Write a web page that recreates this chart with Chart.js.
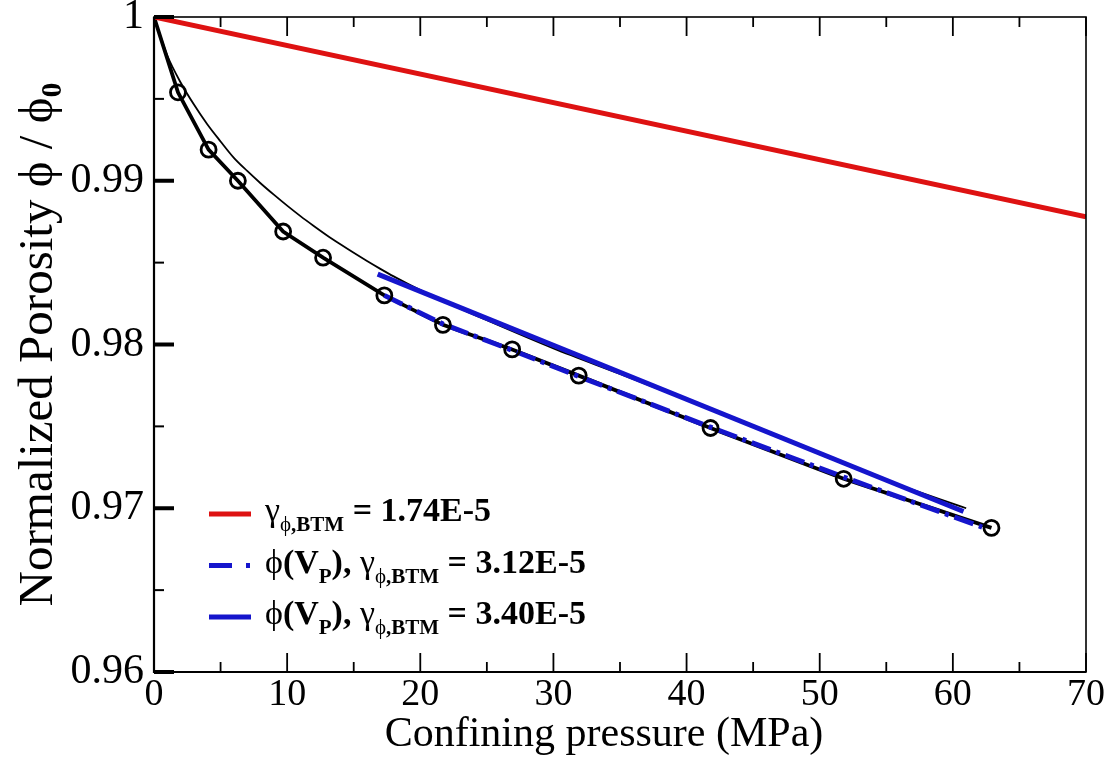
<!DOCTYPE html>
<html>
<head>
<meta charset="utf-8">
<script src="https://cdn.jsdelivr.net/npm/chart.js@4.4.1/dist/chart.umd.min.js"></script>
<style>
  html, body { margin: 0; padding: 0; background: #fff; }
</style>
</head>
<body>
<canvas id="chart" width="1114" height="763"></canvas>
<script>
// measured porosity (open circles)
const measuredP   = [1.8, 4.1, 6.3, 9.7, 12.7, 17.3, 21.7, 26.9, 31.9, 41.8, 51.8, 62.9];
const measuredPhi = [0.9954, 0.9919, 0.9900, 0.9869, 0.9853, 0.9830, 0.9812, 0.9797, 0.9781, 0.9749, 0.9718, 0.9688];

// thin fitted curve
const fitP   = [0, 1, 2, 3, 4, 5, 6, 7, 8, 9, 10, 11, 12, 13, 14, 15, 16, 17, 18, 20, 22, 25, 30, 35, 40, 45, 50, 55, 61];
const fitPhi = [1.0, 0.99765, 0.9960, 0.99465, 0.99345, 0.9924, 0.9914, 0.9906, 0.98985, 0.98915, 0.98848,
                0.98784, 0.98724, 0.98666, 0.98612, 0.9856, 0.9851, 0.98462, 0.98416, 0.98332, 0.98256,
                0.98148, 0.97976, 0.9782, 0.97662, 0.9750, 0.9733, 0.9717, 0.9700];

// phi(Vp) curve, gamma = 3.12E-5 (dashed)
const vp312P   = [17.3, 21.7, 26.9, 31.9, 41.8, 51.8, 62.2];
const vp312Phi = [0.9830, 0.98125, 0.97965, 0.97805, 0.97495, 0.9719, 0.96885];

// straight BTM lines
const btm174P = [0, 70];
const btm174Phi = [1.0, 0.9878];
const btm340P = [16.8, 60.8];
const btm340Phi = [0.9843, 0.9698];

// axis ticks
const xMajor = [0, 10, 20, 30, 40, 50, 60, 70];
const xMinor = [5, 15, 25, 35, 45, 55, 65];
const yMajor = [0.96, 0.97, 0.98, 0.99, 1.0];
const yMinor = [0.965, 0.975, 0.985, 0.995];

const RED = '#de1212';
const BLUE = '#1515cc';
const SERIF = '"Liberation Serif", "Times New Roman", serif';

const pts = (xs, ys) => xs.map((x, i) => ({ x: x, y: ys[i] }));

// legend rows: [text, kind]  g = greek, m = bold, s = bold subscript, gs = greek subscript
const legendRows = [
  { ds: 3, dash: [], segs: [['γ', 'g'], ['ϕ', 'gs'], [',BTM', 's'], [' = 1.74E-5', 'm']] },
  { ds: 2, dash: [23, 14, 4, 100], segs: [['ϕ', 'g'], ['(V', 'm'], ['P', 's'], ['), ', 'm'], ['γ', 'g'], ['ϕ', 'gs'], [',BTM', 's'], [' = 3.12E-5', 'm']] },
  { ds: 1, dash: [], segs: [['ϕ', 'g'], ['(V', 'm'], ['P', 's'], ['), ', 'm'], ['γ', 'g'], ['ϕ', 'gs'], [',BTM', 's'], [' = 3.40E-5', 'm']] }
];

const fonts = {
  g: '34px ' + SERIF,
  m: 'bold 34px ' + SERIF,
  s: 'bold 21px ' + SERIF,
  gs: '21px ' + SERIF
};

function drawRich(ctx, x, y, segs, fontMap, subShift) {
  for (const [text, kind] of segs) {
    ctx.font = fontMap[kind];
    const dy = kind.endsWith('s') ? subShift : 0;
    ctx.fillText(text, x, y + dy);
    x += ctx.measureText(text).width;
  }
  return x;
}

const decorPlugin = {
  id: 'decor',
  afterDatasetsDraw(chart) {
    const ctx = chart.ctx;
    const a = chart.chartArea;
    const xs = chart.scales.x, ys = chart.scales.y;
    ctx.save();
    ctx.strokeStyle = '#000';
    ctx.lineCap = 'butt';

    // frame
    ctx.lineWidth = 1.6;
    ctx.strokeRect(a.left, a.top, a.right - a.left, a.bottom - a.top);
    ctx.lineWidth = 2.2;
    ctx.beginPath();
    ctx.moveTo(a.left, a.top); ctx.lineTo(a.left, a.bottom); ctx.lineTo(a.right, a.bottom);
    ctx.stroke();

    // x ticks bottom and top
    const xTick = (v, len) => {
      const px = xs.getPixelForValue(v);
      ctx.beginPath();
      ctx.moveTo(px, a.bottom); ctx.lineTo(px, a.bottom - len);
      ctx.moveTo(px, a.top); ctx.lineTo(px, a.top + len);
      ctx.stroke();
    };
    ctx.lineWidth = 1.8;
    xMajor.forEach(v => xTick(v, 19));
    xMinor.forEach(v => xTick(v, 10));

    // y ticks left only
    const yTick = (v, len, w) => {
      const py = ys.getPixelForValue(v);
      ctx.lineWidth = w;
      ctx.beginPath();
      ctx.moveTo(a.left, py); ctx.lineTo(a.left + len, py);
      ctx.stroke();
    };
    yMajor.forEach(v => yTick(v, 20, 4));
    yMinor.forEach(v => yTick(v, 10, 2));
    ctx.restore();
  },
  afterDraw(chart) {
    const ctx = chart.ctx;
    const a = chart.chartArea;
    ctx.save();
    ctx.fillStyle = '#000';
    ctx.textBaseline = 'alphabetic';

    // x axis title
    ctx.textAlign = 'center';
    ctx.font = '42px ' + SERIF;
    ctx.fillText('Confining pressure (MPa)', 604, 746);

    // y axis title, rotated, with subscript
    ctx.textAlign = 'left';
    const tFonts = { r: '49px ' + SERIF, s: 'bold 30px ' + SERIF };
    const tSegs = [['Normalized Porosity ϕ / ϕ', 'r'], ['0', 's']];
    let total = 0;
    for (const [t, k] of tSegs) { ctx.font = tFonts[k]; total += ctx.measureText(t).width; }
    ctx.translate(52, (a.top + a.bottom) / 2);
    ctx.rotate(-Math.PI / 2);
    drawRich(ctx, -total / 2, 0, tSegs, tFonts, 9);
    ctx.setTransform(1, 0, 0, 1, 0, 0);

    // legend
    const lx = a.left + 55, ly = a.top + 497, step = 51.5;
    legendRows.forEach((row, i) => {
      const ds = chart.data.datasets[row.ds];
      const y = ly + i * step;
      ctx.strokeStyle = ds.borderColor;
      ctx.lineWidth = ds.borderWidth;
      ctx.setLineDash(row.dash);
      ctx.beginPath();
      ctx.moveTo(lx, y); ctx.lineTo(lx + 42, y);
      ctx.stroke();
      ctx.setLineDash([]);
      ctx.fillStyle = '#000';
      drawRich(ctx, lx + 56, y + 7, row.segs, fonts, 10);
    });
    ctx.restore();
  }
};

new Chart(document.getElementById('chart'), {
  type: 'scatter',
  data: {
    datasets: [
      { label: 'measured', data: pts(measuredP, measuredPhi), showLine: false,
        pointRadius: 7.5, pointBorderWidth: 2.8, pointBorderColor: '#000',
        pointBackgroundColor: 'rgba(0,0,0,0)', order: 0 },
      { label: 'BTM 3.40E-5', data: pts(btm340P, btm340Phi), showLine: true,
        borderColor: BLUE, borderWidth: 5, pointRadius: 0, order: 1 },
      { label: 'BTM 3.12E-5', data: pts(vp312P, vp312Phi), showLine: true,
        borderColor: BLUE, borderWidth: 5, borderDash: [20, 6, 4, 6], pointRadius: 0, order: 2 },
      { label: 'BTM 1.74E-5', data: pts(btm174P, btm174Phi), showLine: true,
        borderColor: RED, borderWidth: 5, pointRadius: 0, order: 3 },
      { label: 'measured line', data: pts([0].concat(measuredP), [1.0].concat(measuredPhi)), showLine: true,
        borderColor: '#000', borderWidth: 3.8, pointRadius: 0, order: 4 },
      { label: 'fit', data: pts(fitP, fitPhi), showLine: true, cubicInterpolationMode: 'monotone',
        borderColor: '#000', borderWidth: 1.8, pointRadius: 0, order: 5 }
    ]
  },
  options: {
    responsive: false,
    animation: false,
    devicePixelRatio: 1,
    layout: { padding: { left: 0, right: 28, top: 17, bottom: 0 } },
    plugins: { legend: { display: false }, tooltip: { enabled: false } },
    scales: {
      x: {
        type: 'linear', min: 0, max: 70,
        grid: { display: false, drawTicks: false },
        border: { display: false },
        ticks: { stepSize: 10, padding: 0, color: '#000', font: { family: SERIF, size: 38 } },
        afterFit(scale) { scale.height = 91; scale.paddingLeft = 0; scale.paddingRight = 0; }
      },
      y: {
        type: 'linear', min: 0.96, max: 1.0,
        grid: { display: false, drawTicks: false },
        border: { display: false },
        ticks: { stepSize: 0.01, padding: 10, color: '#000', font: { family: SERIF, size: 42 },
                 callback: v => String(+v.toFixed(2)) },
        afterFit(scale) { scale.width = 154; scale.paddingTop = 0; scale.paddingBottom = 0; }
      }
    }
  },
  plugins: [decorPlugin]
});
</script>
</body>
</html>
